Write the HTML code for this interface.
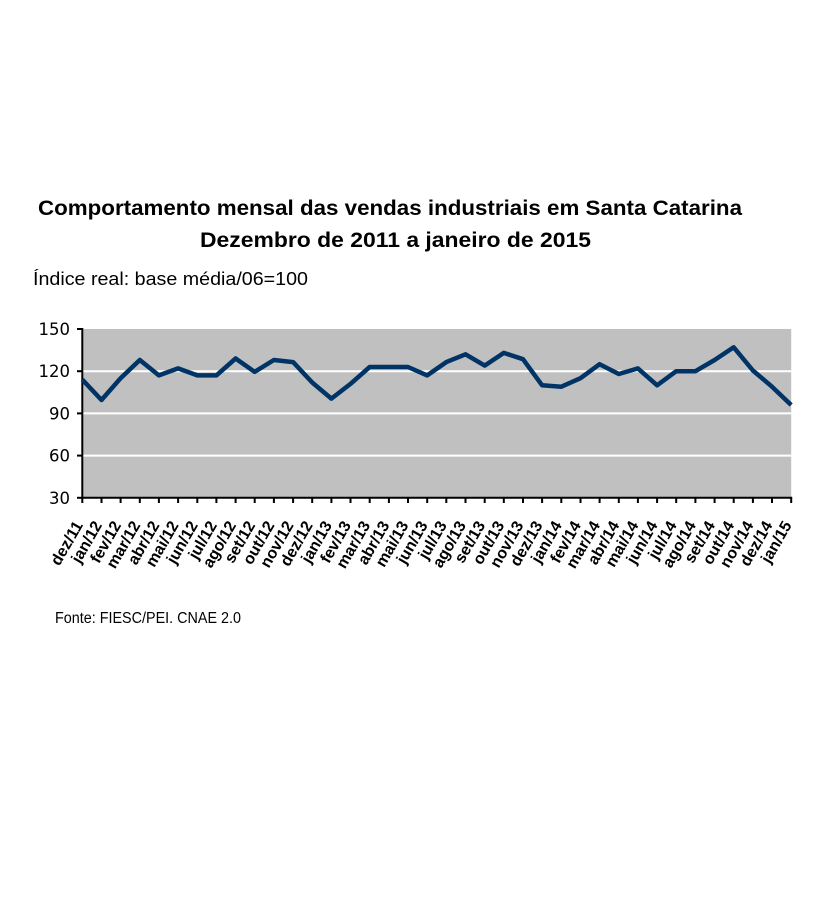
<!DOCTYPE html>
<html>
<head>
<meta charset="utf-8">
<style>
  html, body { margin: 0; padding: 0; background: #ffffff; }
  svg { display: block; }
</style>
</head>
<body>
<svg width="836" height="918" viewBox="0 0 836 918" xmlns="http://www.w3.org/2000/svg">
  <rect x="0" y="0" width="836" height="918" fill="#ffffff"/>

  <!-- Titles -->
  <text x="38" y="215" font-family="Liberation Sans, sans-serif" font-weight="bold" font-size="21" fill="#000" textLength="704" lengthAdjust="spacingAndGlyphs">Comportamento mensal das vendas industriais em Santa Catarina</text>
  <text x="200" y="247" font-family="Liberation Sans, sans-serif" font-weight="bold" font-size="21" fill="#000" textLength="391" lengthAdjust="spacingAndGlyphs">Dezembro de 2011 a janeiro de 2015</text>
  <text x="33" y="285" font-family="Liberation Sans, sans-serif" font-size="18" fill="#000" textLength="275" lengthAdjust="spacingAndGlyphs">Índice real: base média/06=100</text>

  <!-- Plot area -->
  <rect x="82.3" y="329" width="708.9" height="168.8" fill="#c0c0c0"/>
  <g stroke="#ffffff" stroke-width="2">
    <line x1="82.3" y1="371.2" x2="791.2" y2="371.2"/>
    <line x1="82.3" y1="413.4" x2="791.2" y2="413.4"/>
    <line x1="82.3" y1="455.6" x2="791.2" y2="455.6"/>
  </g>

  <!-- Axes -->
  <g stroke="#000" stroke-width="2" fill="none">
    <line x1="82.3" y1="328" x2="82.3" y2="498.8"/>
    <line x1="81.3" y1="497.8" x2="792.2" y2="497.8"/>
    <line x1="77" y1="329" x2="82.3" y2="329"/>
    <line x1="77" y1="371.2" x2="82.3" y2="371.2"/>
    <line x1="77" y1="413.4" x2="82.3" y2="413.4"/>
    <line x1="77" y1="455.6" x2="82.3" y2="455.6"/>
    <line x1="77" y1="497.8" x2="82.3" y2="497.8"/>
    <path d="M82.3 497.8V503 M101.5 497.8V503 M120.6 497.8V503 M139.8 497.8V503 M158.9 497.8V503 M178.1 497.8V503 M197.3 497.8V503 M216.4 497.8V503 M235.6 497.8V503 M254.7 497.8V503 M273.9 497.8V503 M293.1 497.8V503 M312.2 497.8V503 M331.4 497.8V503 M350.5 497.8V503 M369.7 497.8V503 M388.9 497.8V503 M408.0 497.8V503 M427.2 497.8V503 M446.3 497.8V503 M465.5 497.8V503 M484.7 497.8V503 M503.8 497.8V503 M523.0 497.8V503 M542.1 497.8V503 M561.3 497.8V503 M580.5 497.8V503 M599.6 497.8V503 M618.8 497.8V503 M637.9 497.8V503 M657.1 497.8V503 M676.2 497.8V503 M695.4 497.8V503 M714.6 497.8V503 M733.7 497.8V503 M752.9 497.8V503 M772.0 497.8V503 M791.2 497.8V503"/>
  </g>

  <!-- Y labels -->
  <g font-family="DejaVu Sans, sans-serif" font-size="16.5" fill="#000" text-anchor="end">
    <text x="70" y="335">150</text>
    <text x="70" y="377.2">120</text>
    <text x="70" y="419.4">90</text>
    <text x="70" y="461.6">60</text>
    <text x="70" y="503.8">30</text>
  </g>

  <!-- Series -->
  <polyline fill="none" stroke="#003366" stroke-width="4.5" stroke-linejoin="round" stroke-linecap="butt"
    points="82.3,379.6 101.5,400.0 120.6,378.2 139.8,360.0 158.9,375.4 178.1,368.4 197.3,375.4 216.4,375.4 235.6,358.5 254.7,371.9 273.9,360.0 293.1,362.1 312.2,382.5 331.4,398.6 350.5,383.9 369.7,367.0 388.9,367.0 408.0,367.0 427.2,375.4 446.3,362.1 465.5,354.3 484.7,365.6 503.8,352.9 523.0,359.2 542.1,385.3 561.3,386.7 580.5,378.2 599.6,364.2 618.8,374.0 637.9,368.4 657.1,385.3 676.2,371.2 695.4,371.2 714.6,360.0 733.7,347.3 752.9,370.5 772.0,386.7 791.2,405.0"/>

  <!-- X labels -->
  <g font-family="Liberation Sans, sans-serif" font-weight="bold" font-size="16" fill="#000" text-anchor="end">
    <text transform="translate(83.3,525) rotate(-60)">dez/11</text>
    <text transform="translate(102.5,525) rotate(-60)">jan/12</text>
    <text transform="translate(121.6,525) rotate(-60)">fev/12</text>
    <text transform="translate(140.8,525) rotate(-60)">mar/12</text>
    <text transform="translate(159.9,525) rotate(-60)">abr/12</text>
    <text transform="translate(179.1,525) rotate(-60)">mai/12</text>
    <text transform="translate(198.3,525) rotate(-60)">jun/12</text>
    <text transform="translate(217.4,525) rotate(-60)">jul/12</text>
    <text transform="translate(236.6,525) rotate(-60)">ago/12</text>
    <text transform="translate(255.7,525) rotate(-60)">set/12</text>
    <text transform="translate(274.9,525) rotate(-60)">out/12</text>
    <text transform="translate(294.1,525) rotate(-60)">nov/12</text>
    <text transform="translate(313.2,525) rotate(-60)">dez/12</text>
    <text transform="translate(332.4,525) rotate(-60)">jan/13</text>
    <text transform="translate(351.5,525) rotate(-60)">fev/13</text>
    <text transform="translate(370.7,525) rotate(-60)">mar/13</text>
    <text transform="translate(389.9,525) rotate(-60)">abr/13</text>
    <text transform="translate(409.0,525) rotate(-60)">mai/13</text>
    <text transform="translate(428.2,525) rotate(-60)">jun/13</text>
    <text transform="translate(447.3,525) rotate(-60)">jul/13</text>
    <text transform="translate(466.5,525) rotate(-60)">ago/13</text>
    <text transform="translate(485.7,525) rotate(-60)">set/13</text>
    <text transform="translate(504.8,525) rotate(-60)">out/13</text>
    <text transform="translate(524.0,525) rotate(-60)">nov/13</text>
    <text transform="translate(543.1,525) rotate(-60)">dez/13</text>
    <text transform="translate(562.3,525) rotate(-60)">jan/14</text>
    <text transform="translate(581.5,525) rotate(-60)">fev/14</text>
    <text transform="translate(600.6,525) rotate(-60)">mar/14</text>
    <text transform="translate(619.8,525) rotate(-60)">abr/14</text>
    <text transform="translate(638.9,525) rotate(-60)">mai/14</text>
    <text transform="translate(658.1,525) rotate(-60)">jun/14</text>
    <text transform="translate(677.2,525) rotate(-60)">jul/14</text>
    <text transform="translate(696.4,525) rotate(-60)">ago/14</text>
    <text transform="translate(715.6,525) rotate(-60)">set/14</text>
    <text transform="translate(734.7,525) rotate(-60)">out/14</text>
    <text transform="translate(753.9,525) rotate(-60)">nov/14</text>
    <text transform="translate(773.0,525) rotate(-60)">dez/14</text>
    <text transform="translate(792.2,525) rotate(-60)">jan/15</text>
  </g>

  <!-- Source -->
  <text x="55" y="623" font-family="Liberation Sans, sans-serif" font-size="15.5" fill="#000" textLength="186" lengthAdjust="spacingAndGlyphs">Fonte: FIESC/PEI. CNAE 2.0</text>
</svg>
</body>
</html>
